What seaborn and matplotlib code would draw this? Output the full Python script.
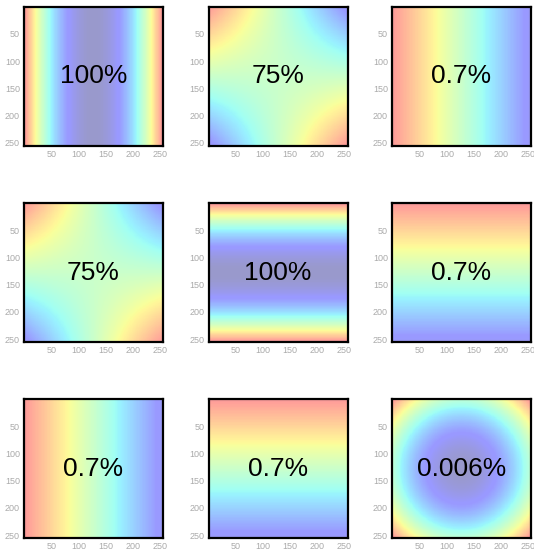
import numpy as np
import matplotlib
matplotlib.use("Agg")
import matplotlib.pyplot as plt
import seaborn as sns

# Grid size of each field (pixels per side)
size = 256

# Panel contents, row by row: which field is drawn and its caption
fields = ["uu", "uv", "u",
          "uv", "vv", "v",
          "u", "v", "rr"]
captions = ["100%", "75%", "0.7%",
            "75%", "100%", "0.7%",
            "0.7%", "0.7%", "0.006%"]

# Colour-scale limits for each kind of field
color_lo = {"uu": 0.0, "vv": 0.0, "rr": 0.0, "uv": -1.22, "u": -1.22, "v": -1.22}
color_hi = {"uu": 1.075, "vv": 1.075, "rr": 2.15, "uv": 1.22, "u": 1.22, "v": 1.22}

tick_values = [50, 100, 150, 200, 250]

sns.set_style("white")
plt.rcParams["font.family"] = ["Liberation Sans", "DejaVu Sans"]

# Normalised coordinates across the grid, -1 at the first pixel and +1 at the last
coord = (np.arange(size) - (size - 1) / 2) / ((size - 1) / 2)
U, V = np.meshgrid(coord, coord)


def field(kind):
    if kind == "uu":
        return U ** 2
    if kind == "vv":
        return V ** 2
    if kind == "uv":
        return U * V
    if kind == "u":
        return -U
    if kind == "v":
        return -V
    return U ** 2 + V ** 2


W, H = 534, 552
fig = plt.figure(figsize=(W / 100, H / 100), dpi=100)

col_left = [24, 208.5, 392]
row_top = [6.5, 203, 399]
box_w, box_h = 139, 139

for i, (kind, cap) in enumerate(zip(fields, captions)):
    r, c = divmod(i, 3)
    x0 = col_left[c]
    y0 = row_top[r]
    ax = fig.add_axes([x0 / W, 1 - (y0 + box_h) / H, box_w / W, box_h / H])
    sns.heatmap(field(kind), ax=ax, cmap="jet", alpha=0.4, cbar=False,
                vmin=color_lo[kind], vmax=color_hi[kind],
                xticklabels=False, yticklabels=False)
    ax.set_xticks([t + 0.5 for t in tick_values])
    ax.set_xticklabels([str(t) for t in tick_values])
    ax.set_yticks([t + 0.5 for t in tick_values])
    ax.set_yticklabels([str(t) for t in tick_values], rotation=0)
    ax.tick_params(axis="both", length=0, pad=3, labelsize=6.5, labelcolor="#aaaaaa")
    for sp in ax.spines.values():
        sp.set_visible(True)
        sp.set_color("black")
        sp.set_linewidth(1.6)
    ax.text(0.5, 0.5, cap, transform=ax.transAxes, ha="center", va="center",
            fontsize=19, color="black")

fig.savefig("out.png", dpi=100)
